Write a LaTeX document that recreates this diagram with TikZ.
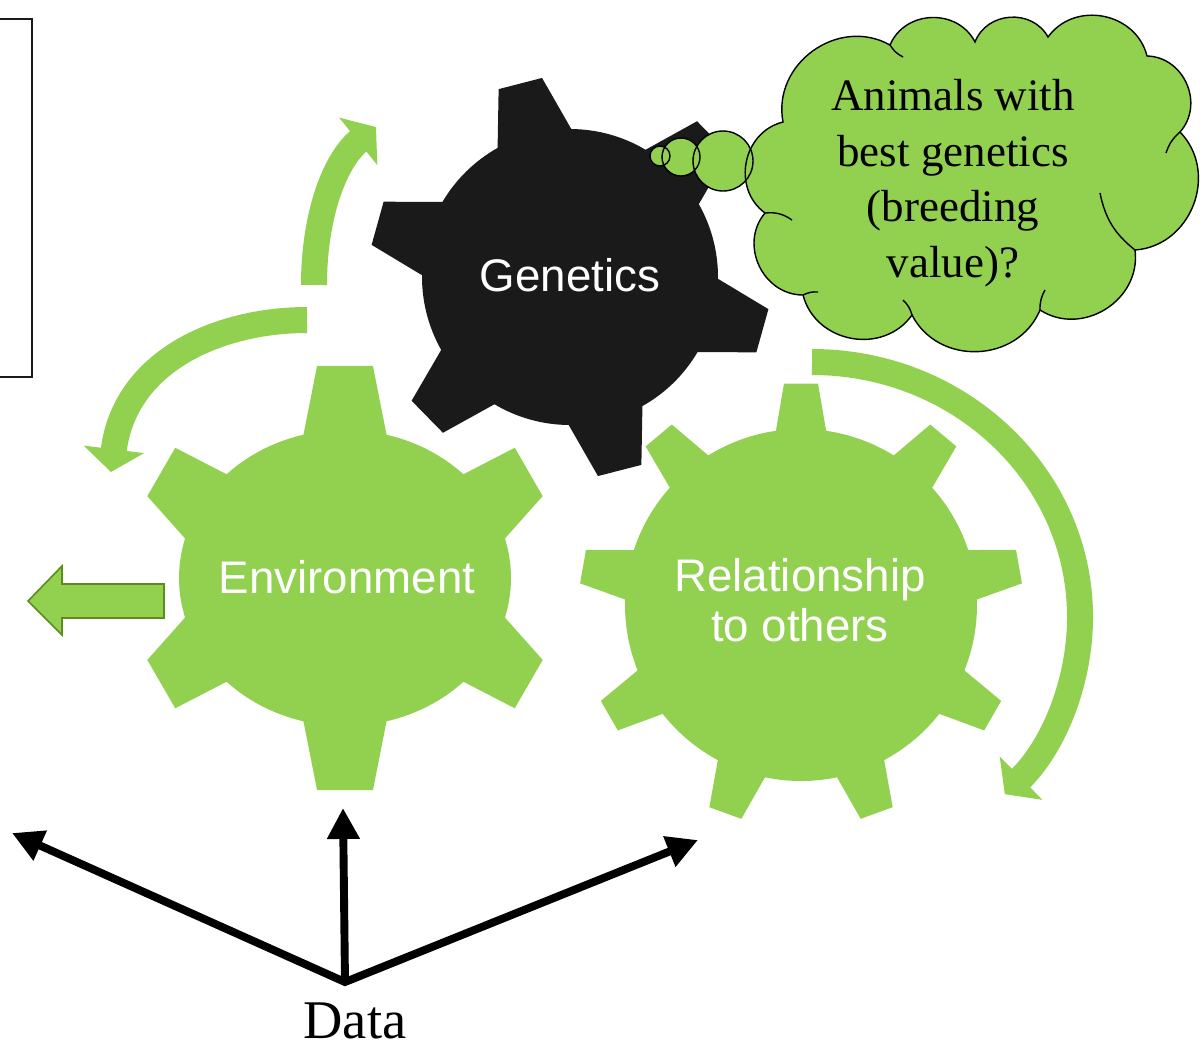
\documentclass[tikz,border=0pt]{standalone}
\usepackage{fontspec}
\setmainfont{Liberation Serif}
\newfontfamily\gearfont{Liberation Sans}
\usetikzlibrary{calc, arrows.meta, positioning}
\definecolor{gearGreen}{HTML}{92D050}
\definecolor{gearBlack}{HTML}{1A1A1A}
\definecolor{arrowEdge}{HTML}{5F8B1A}

% gear outline: fill, centre, teeth, first tooth angle, body radii, tip radius, half angles (base, tip)
\newcommand{\drawgear}[9]{%
  \pgfmathsetmacro{\gearstep}{360/#3}
  \fill[#1] ($(#2)+({#4-#8}:#5 and #6)$)
    \foreach \k in {1,...,#3}{
      -- ($(#2)+({#4+(\k-1)*\gearstep-#9}:#7)$)
      -- ($(#2)+({#4+(\k-1)*\gearstep+#9}:#7)$)
      -- ($(#2)+({#4+(\k-1)*\gearstep+#8}:#5 and #6)$)
      arc[start angle={#4+(\k-1)*\gearstep+#8}, delta angle={\gearstep-2*#8}, x radius=#5, y radius=#6]
    } -- cycle;
}

\begin{document}
\begin{tikzpicture}[x=0.02cm, y=-0.02cm,
    geartext/.style={font=\gearfont\fontsize{26pt}{28.4pt}\selectfont, text=white, align=center},
    cloudline/.style={draw=black, line width=0.8pt},
    cloudlobe/.style={bend left=65, looseness=1.15},
    curvearrow/.style={draw=gearGreen, line width=14.8pt, -{Triangle[width=34pt,length=13pt]}},
    datalink/.style={draw=black, line width=4.5pt},
    datatip/.tip={Triangle[width=17.6pt,length=17.6pt]},
  ]
    \useasboundingbox (0,0) rectangle (1202,1049);

    % box cut by the left border
    \draw[line width=1.5pt, color=gearBlack] (0,19) -- (32,19) -- (32,377) -- (0,377);

    % gears
    \coordinate (genC) at (570,277);
    \coordinate (envC) at (345,578);
    \coordinate (relC) at (801,605);
    \drawgear{gearBlack}{genC}{6}{-104.4}{148}{148}{201}{14.9}{6.4}
    \drawgear{gearGreen}{envC}{6}{-90}{166}{148}{214}{14.5}{7.5}
    \drawgear{gearGreen}{relC}{9}{-90}{176}{176}{222}{8.2}{4.4}
    \node[geartext] (genetics) at (570,275) {Genetics};
    \node[geartext] (environment) at (347,577) {Environment};
    \node[geartext] (relation) at (800,600) {Relationship\\to others};

    % thought cloud
    \coordinate (c1) at (783,122);
    \coordinate (c2) at (765,213);
    \coordinate (c3) at (803,295);
    \coordinate (c4) at (912,315);
    \coordinate (c5) at (1040,310);
    \coordinate (c6) at (1135,250);
    \coordinate (c7) at (1180,132);
    \coordinate (c8) at (1147,56);
    \coordinate (c9) at (1048,37);
    \coordinate (c10) at (975,42);
    \coordinate (c11) at (890,45);
    \fill[gearGreen] (660,156) circle[radius=10] (681,157) circle[radius=19] (723,161) circle[radius=30];
    \filldraw[fill=gearGreen, cloudline] (c1) to[cloudlobe] (c11) to[cloudlobe] (c10) to[cloudlobe] (c9)
      to[cloudlobe] (c8) to[cloudlobe] (c7) to[cloudlobe] (c6) to[cloudlobe] (c5) to[cloudlobe] (c4)
      to[cloudlobe] (c3) to[cloudlobe] (c2) to[cloudlobe] (c1) -- cycle;
    \draw[cloudline] (c2) to[bend left=20] (792,220);
    \draw[cloudline] (c3) to[bend left=15] (818,292);
    \draw[cloudline] (c4) to[bend right=15] (903,300);
    \draw[cloudline] (c5) to[bend left=15] (1045,290);
    \draw[cloudline] (c6) to[bend left=20] (1100,193);
    \draw[cloudline] (c7) to[bend right=15] (1166,153);
    \draw[cloudline] (c11) to[bend right=15] (903,57);
    \draw[cloudline] (660,156) circle[radius=10] (681,157) circle[radius=19] (723,161) circle[radius=30];
    \node[font=\fontsize{25.6pt}{31.6pt}\selectfont, align=center] (question) at (953,183)
      {Animals with\\best genetics\\(breeding\\value)?};

    % curved arrows round the gears
    \draw[curvearrow] (314,285) .. controls (314,215) and (335,160) .. (376,127);
    \draw[curvearrow] (307,320) .. controls (220,320) and (125,360) .. (111,472);
    \draw[curvearrow] (812,362) arc[start angle=-90, end angle=44, x radius=268, y radius=255];

    % block arrow on the left
    \filldraw[fill=gearGreen, draw=arrowEdge, line width=0.9pt]
      (28,601) -- (62,566) -- (62,584) -- (164,584) -- (164,618) -- (62,618) -- (62,635) -- cycle;

    % data arrows
    \node[font=\fontsize{31pt}{36pt}\selectfont, inner sep=1pt] (datalabel) at (355,1021) {Data};
    \coordinate (hub) at (345,982);
    \coordinate (toEnv) at (343,808);
    \coordinate (toLeft) at (12,833);
    \coordinate (toRel) at (698,840);
    \draw[datalink, datatip-datatip] (toLeft) -- (hub) -- (toRel);
    \draw[datalink, -datatip] (hub) -- (toEnv);
\end{tikzpicture}
\end{document}
